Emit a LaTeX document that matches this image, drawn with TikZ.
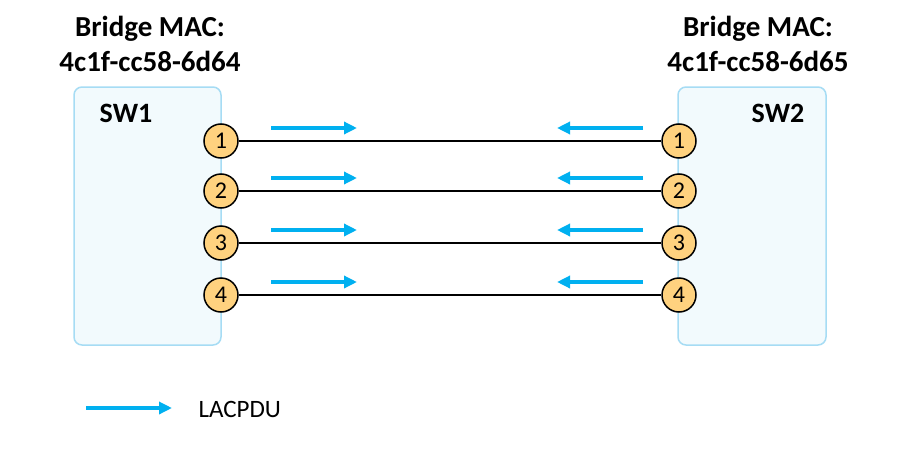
\documentclass[tikz,border=0pt]{standalone}
\usepackage{fontspec}
\setmainfont{Carlito}
\usetikzlibrary{arrows.meta}
\definecolor{boxfill}{HTML}{F2FAFD}
\definecolor{boxline}{HTML}{A6DCF4}
\definecolor{portfill}{HTML}{FFD27F}
\definecolor{lacp}{HTML}{00B0F0}
\begin{document}
\begin{tikzpicture}[x=1pt,y=-1pt,
  swbox/.style={draw=boxline,fill=boxfill,line width=1.5pt,rounded corners=8pt},
  port/.style={circle,draw=black,fill=portfill,line width=1.5pt,minimum size=34pt,inner sep=0pt,font=\fontsize{24}{26}\selectfont},
  link/.style={line width=2.6pt,black},
  pdu/.style={draw=lacp,line width=3.5pt,-{Triangle[length=13pt,width=12pt]}},
  title/.style={font=\bfseries\fontsize{29}{35}\selectfont,align=center},
  swlabel/.style={font=\bfseries\fontsize{28}{30}\selectfont}]
\useasboundingbox (0,0) rectangle (907,452);
\draw[swbox] (74,87) rectangle (221,345);
\draw[swbox] (678,87) rectangle (826,345);
\node[title] (t1) at (150,44) {Bridge MAC:\\4c1f-cc58-6d64};
\node[title] (t2) at (758,44) {Bridge MAC:\\4c1f-cc58-6d65};
\node[swlabel] (sw1) at (126,113) {SW1};
\node[swlabel] (sw2) at (778,113) {SW2};
\foreach \i/\y in {1/141,2/191,3/243,4/295}{
  \node[port] (l\i) at (221,\y) {\i};
  \node[port] (r\i) at (679,\y) {\i};
  \draw[link] (l\i) -- (r\i);
  \coordinate (la\i) at (271,\y-13);
  \coordinate (lb\i) at (357,\y-13);
  \coordinate (ra\i) at (643,\y-13);
  \coordinate (rb\i) at (557,\y-13);
  \draw[pdu] (la\i) -- (lb\i);
  \draw[pdu] (ra\i) -- (rb\i);
}
\coordinate (ga) at (86,408);
\coordinate (gb) at (172,408);
\draw[pdu] (ga) -- (gb);
\node[anchor=west,font=\fontsize{25}{27}\selectfont] (leg) at (195,409) {LACPDU};
\end{tikzpicture}
\end{document}
